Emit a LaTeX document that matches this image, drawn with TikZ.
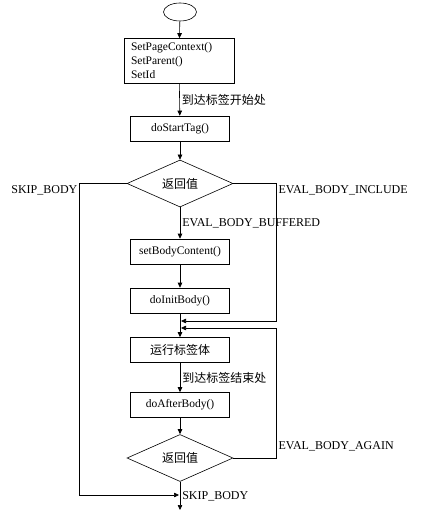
\documentclass[tikz,border=0pt]{standalone}
\usepackage{fontspec}
\setmainfont{Liberation Serif}
\newfontfamily\cjk{Noto Sans CJK SC}
\usetikzlibrary{arrows.meta,shapes.geometric}
\tikzset{>/.tip={Triangle[length=5pt,width=4.5pt]},
  proc/.style={draw,minimum width=99pt,minimum height=25pt,inner sep=1pt,
    font=\fontsize{11.5}{13.5}\selectfont},
  test/.style={draw,diamond,minimum width=106pt,minimum height=36pt,
    inner sep=0pt,font=\cjk\fontsize{12}{14}\selectfont},
  lbl/.style={font=\fontsize{12}{14}\selectfont,inner sep=2pt},
  cjklbl/.style={font=\cjk\fontsize{12}{14}\selectfont,inner sep=2pt}}

\begin{document}
\begin{tikzpicture}[x=1pt,y=-1pt,line width=0.6pt]
\useasboundingbox (0,0) rectangle (427,510);
\node[draw,ellipse,minimum width=33pt,minimum height=18pt,inner sep=0pt] (start) at (180,12) {};
\node[draw,minimum width=110pt,minimum height=45pt,text width=96pt,align=left,
  inner xsep=7pt,inner ysep=1pt,font=\fontsize{11.5}{14}\selectfont] (init) at (179,61)
  {SetPageContext()\\SetParent()\\SetId};
\node[proc] (starttag) at (180,128.5) {doStartTag()};
\node[test] (ret1) at (180,183.5) {返回值};
\node[proc] (setbody) at (180,251.5) {setBodyContent()};
\node[proc] (initbody) at (180,300.5) {doInitBody()};
\node[proc,font=\cjk\fontsize{12}{14}\selectfont] (runbody) at (180,350) {运行标签体};
\node[proc] (afterbody) at (180,405) {doAfterBody()};
\node[test] (ret2) at (180,458) {返回值};
\coordinate (include) at (181,321);
\coordinate (again) at (181,328);
\coordinate (skip) at (179,495);
\coordinate (out) at (180,510);

\draw[->] (start) to (init);
\draw[->] (init) to node[cjklbl,right] {到达标签开始处} (starttag);
\draw[->] (starttag) to (ret1);
\draw[->] (ret1) to node[lbl,right] {EVAL\_BODY\_BUFFERED} (setbody);
\draw[->] (setbody) to (initbody);
\draw[->] (initbody) to (runbody);
\draw[->] (runbody) to node[cjklbl,right] {到达标签结束处} (afterbody);
\draw[->] (afterbody) to (ret2);
\draw[->] (ret2) to node[lbl,right] {SKIP\_BODY} (out);
\draw[->] (ret1.west) -- ++(-47,0) node[lbl,anchor=north east] {SKIP\_BODY} |- (skip);
\draw[->] (ret1.east) -- ++(43,0) node[lbl,anchor=north west] {EVAL\_BODY\_INCLUDE} |- (include);
\draw[->] (ret2.east) -- ++(43,0) node[lbl,anchor=south west,yshift=5pt] {EVAL\_BODY\_AGAIN} |- (again);
\end{tikzpicture}
\end{document}
